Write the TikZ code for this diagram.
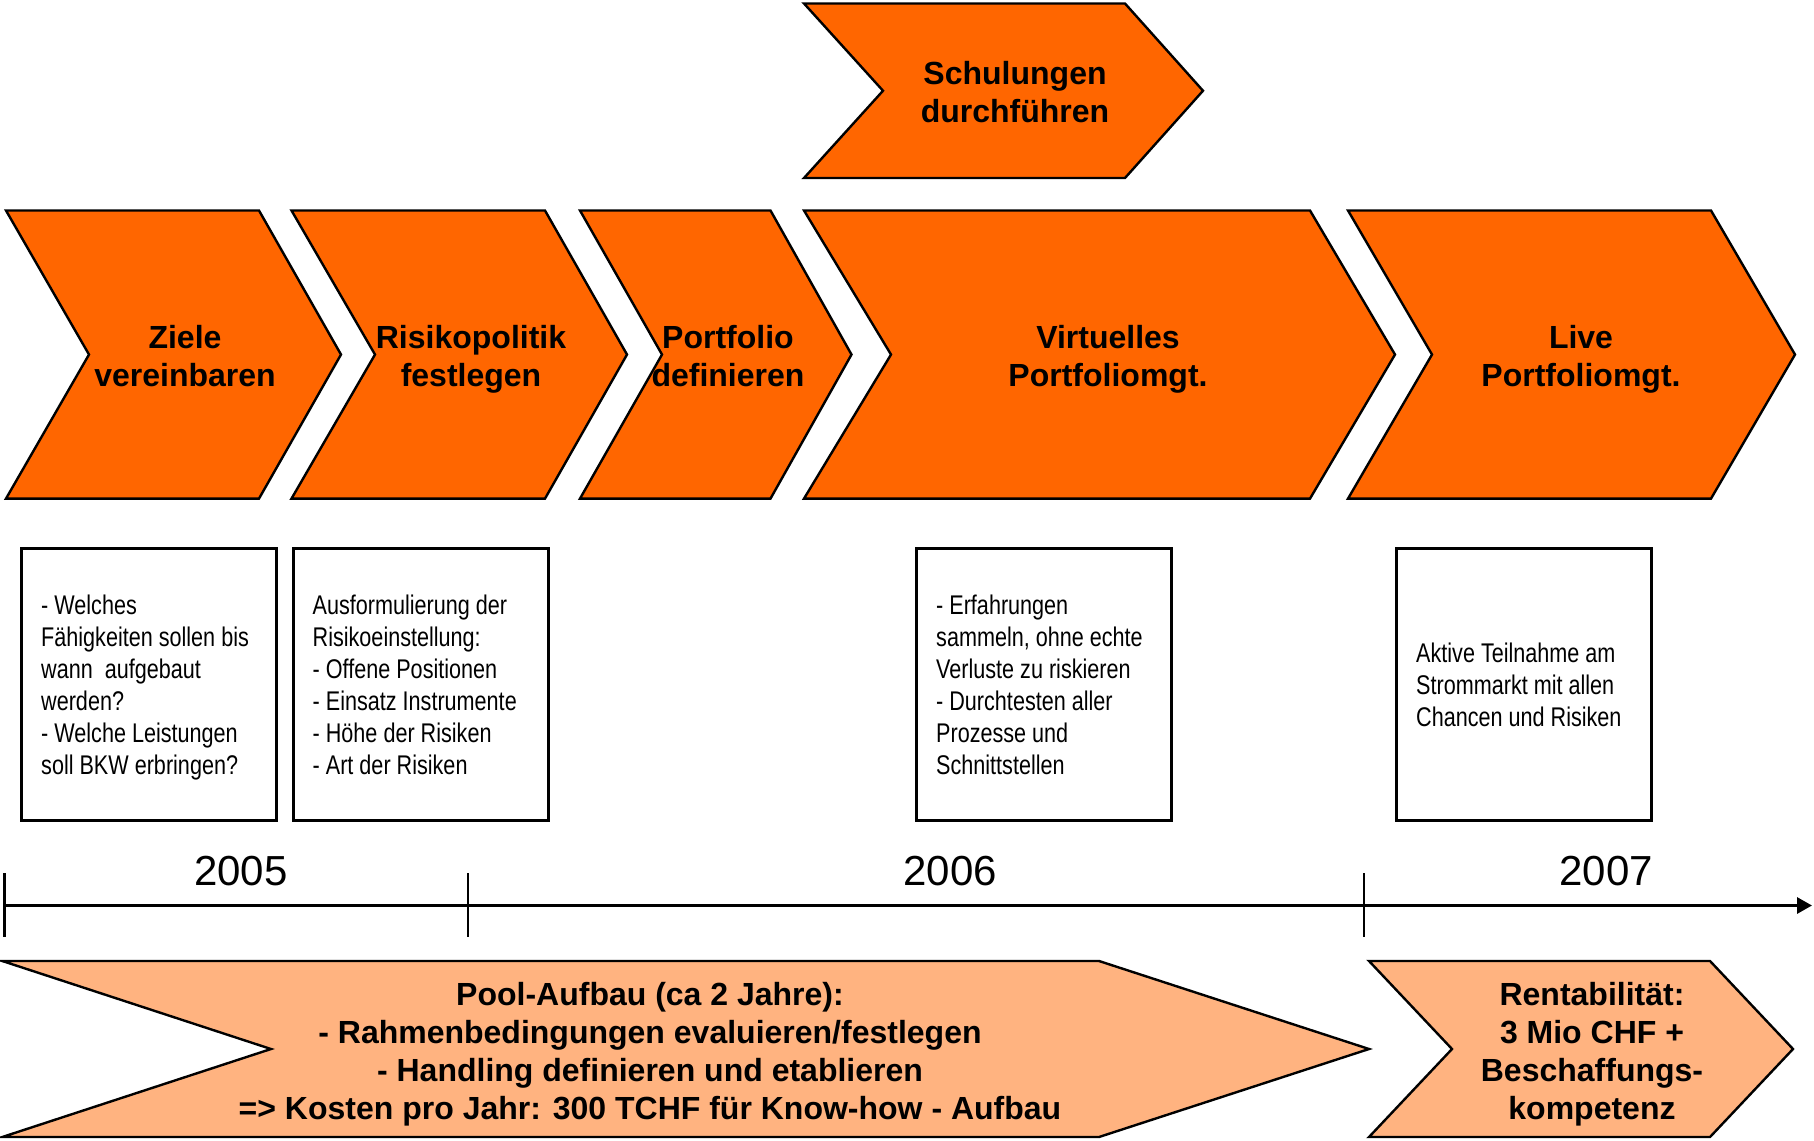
\documentclass[tikz,border=0pt]{standalone}
\usepackage{fontspec}
\setmainfont{Liberation Sans}
\newfontfamily\narrowfont[FakeStretch=0.80]{Liberation Sans}
\usetikzlibrary{arrows.meta}
\definecolor{orangeA}{HTML}{FF6600}
\definecolor{orangeB}{HTML}{FFB380}
\newcommand{\chevpath}[7]{% fill, left, notch, right, tip, top, bottom
  \filldraw[chevline, fill=#1] (#2,#6) -- (#4,#6) -- (#5,{(#6+#7)/2}) -- (#4,#7) -- (#2,#7) -- (#3,{(#6+#7)/2}) -- cycle;}
\begin{document}
\begin{tikzpicture}[x=1pt,y=-1pt,
  chevline/.style={draw=black, line width=2.4pt, line join=miter},
  chevtext/.style={font=\fontsize{32}{38}\selectfont\bfseries, align=center, text=black, text depth=0pt},
  infobox/.style={draw=black, line width=3pt, fill=white, minimum width=255pt, minimum height=272pt,
     anchor=north west, inner sep=0pt},
  infotext/.style={align=left, anchor=west, inner sep=0pt, text depth=0pt,
     font=\narrowfont\fontsize{27}{32}\selectfont},
  yeartext/.style={font=\fontsize{42}{48}\selectfont},
  tickline/.style={line width=2.3pt},
  axisline/.style={line width=3pt, -{Triangle[length=15pt,width=16pt]}}]
\useasboundingbox (0,0) rectangle (1814,1140);
% top chevron
\chevpath{orangeA}{804}{883}{1125}{1203}{3.5}{178}
\node[chevtext] (schul) at (1015,92) {Schulungen\\durchführen};
% row of chevrons
\chevpath{orangeA}{6}{89}{259}{341}{210.5}{498.6}
\chevpath{orangeA}{291.5}{375}{545}{627}{210.5}{498.6}
\chevpath{orangeA}{580}{662}{770.5}{851.5}{210.5}{498.6}
\chevpath{orangeA}{804}{891}{1310}{1395}{210.5}{498.6}
\chevpath{orangeA}{1348}{1432}{1711}{1795}{210.5}{498.6}
\node[chevtext] (ziele) at (185,356) {Ziele\\vereinbaren};
\node[chevtext] (risiko) at (471,356) {Risikopolitik\\festlegen};
\node[chevtext] (portf) at (728,356) {Portfolio\\definieren};
\node[chevtext] (virt) at (1108,356) {Virtuelles\\Portfoliomgt.};
\node[chevtext] (live) at (1581,356) {Live\\Portfoliomgt.};
% info boxes
\node[infobox] (b1) at (20,547) {};
\node[infobox] (b2) at (291.5,547) {};
\node[infobox] (b3) at (915,547) {};
\node[infobox] (b4) at (1395,547) {};
\node[infotext] (t1) at ([xshift=21pt]b1.west) {- Welches\\Fähigkeiten sollen bis\\wann\ \ aufgebaut\\werden?\\- Welche Leistungen\\soll BKW erbringen?};
\node[infotext] (t2) at ([xshift=21pt]b2.west) {Ausformulierung der\\Risikoeinstellung:\\- Offene Positionen\\- Einsatz Instrumente\\- Höhe der Risiken\\- Art der Risiken};
\node[infotext] (t3) at ([xshift=21pt]b3.west) {- Erfahrungen\\sammeln, ohne echte\\Verluste zu riskieren\\- Durchtesten aller\\Prozesse und\\Schnittstellen};
\node[infotext] (t4) at ([xshift=21pt]b4.west) {Aktive Teilnahme am\\Strommarkt mit allen\\Chancen und Risiken};
% timeline
\coordinate (axs) at (3.5,905.5);
\coordinate (axe) at (1812,905.5);
\draw[axisline] (axs) -- (axe);
\coordinate (t1a) at (4.6,873); \coordinate (t1b) at (4.6,937);
\coordinate (t2a) at (468,873); \coordinate (t2b) at (468,937);
\coordinate (t3a) at (1364,873); \coordinate (t3b) at (1364,937);
\draw[tickline] (t1a) -- (t1b);
\draw[tickline] (t2a) -- (t2b);
\draw[tickline] (t3a) -- (t3b);
\node[yeartext] (y5) at (241,871) {2005};
\node[yeartext] (y6) at (950,871) {2006};
\node[yeartext] (y7) at (1606,871) {2007};
% bottom chevrons
\chevpath{orangeB}{2.3}{271}{1099}{1369}{961}{1137}
\chevpath{orangeB}{1369}{1452}{1710}{1793}{961}{1137}
\node[chevtext] (pool) at (650,1051) {Pool-Aufbau (ca 2 Jahre):\\- Rahmenbedingungen evaluieren/festlegen\\- Handling definieren und etablieren\\=> Kosten pro Jahr: 300 TCHF für Know-how - Aufbau};
\node[chevtext] (rent) at (1592,1051) {Rentabilität:\\3 Mio CHF +\\Beschaffungs-\\kompetenz};
\end{tikzpicture}
\end{document}
